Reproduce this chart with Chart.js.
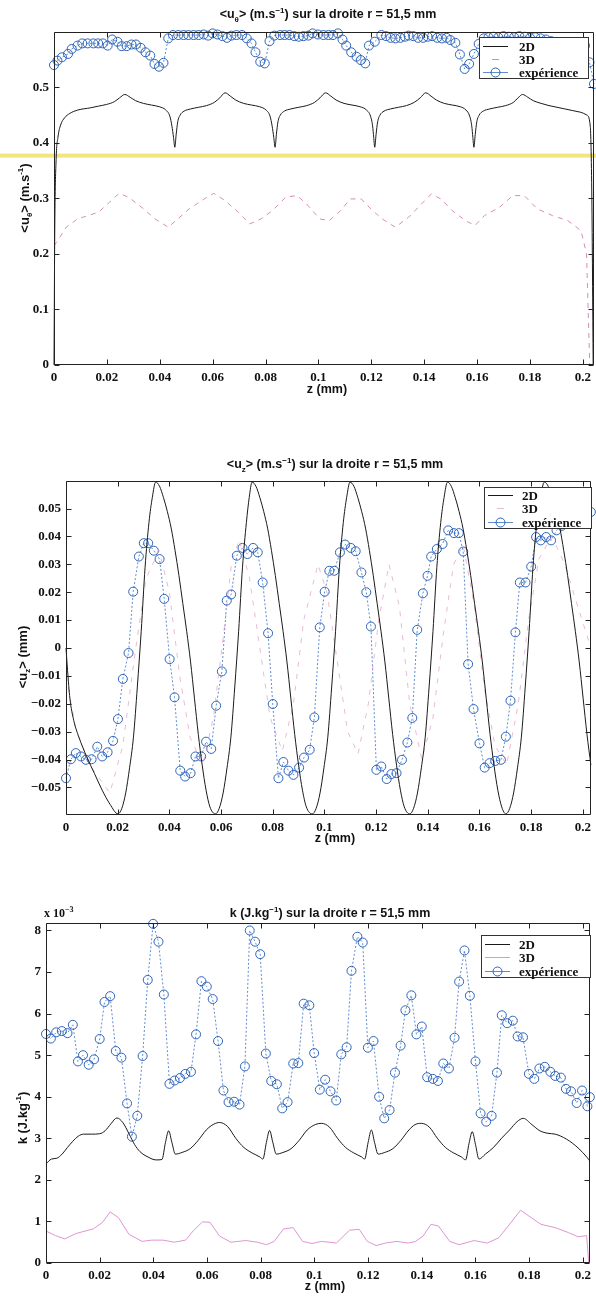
<!DOCTYPE html>
<html><head><meta charset="utf-8">
<script src="https://cdn.jsdelivr.net/npm/chart.js@4.4.1/dist/chart.umd.min.js"></script>
<style>
html,body{margin:0;padding:0;background:#fff;}
body{width:596px;height:1296px;position:relative;overflow:hidden;}
canvas{position:absolute;left:0;}
.t{position:absolute;font:bold 12.5px "Liberation Sans",Arial,sans-serif;color:#111;white-space:nowrap;transform:translate(-50%,-50%);}
.yl{transform:translate(-50%,-50%) rotate(-90deg);font-size:13px;}
.t sub,.t sup{font-size:8px;line-height:0;}
.s{position:absolute;font:bold 12px "Liberation Serif",serif;color:#111;white-space:nowrap;}
.s sup{font-size:8px;line-height:0;}
</style></head><body>
<canvas id="c1" width="596" height="430" style="top:0"></canvas>
<canvas id="c2" width="596" height="440" style="top:430px"></canvas>
<canvas id="c3" width="596" height="426" style="top:870px"></canvas>

<div class="t" style="left:328px;top:14px">&lt;u<sub>θ</sub>&gt; (m.s<sup>−1</sup>) sur la droite r = 51,5 mm</div>
<div class="t" style="left:327px;top:389px">z (mm)</div>
<div class="t yl" style="left:24px;top:198px">&lt;u<sub>θ</sub>&gt; (m.s<sup>-1</sup>)</div>

<div class="t" style="left:335px;top:464px">&lt;u<sub>z</sub>&gt; (m.s<sup>−1</sup>) sur la droite r = 51,5 mm</div>
<div class="t" style="left:335px;top:838px">z (mm)</div>
<div class="t yl" style="left:22px;top:657px">&lt;u<sub>z</sub>&gt; (mm)</div>

<div class="t" style="left:330px;top:913px">k (J.kg<sup>−1</sup>) sur la droite r = 51,5 mm</div>
<div class="t" style="left:325px;top:1286px">z (mm)</div>
<div class="t yl" style="left:22px;top:1118px">k (J.kg<sup>-1</sup>)</div>
<div class="s" style="left:44px;top:906px">x 10<sup>−3</sup></div>

<script>
// ---------- data (z in mm) ----------
const seriesLabels = ['2D', '3D', 'expérience'];
const xTickStep = 0.02;

// chart 1 : <u_theta>
const uth2D = [[0,0],[0.0003,0.25],[0.0008,0.37],[0.0015,0.41],[0.0025,0.432],[0.004,0.445],[0.006,0.453],[0.009,0.459],[0.0138,0.463],[0.0168,0.466],[0.0198,0.469],[0.0228,0.474],[0.0248,0.481],[0.0268,0.487],[0.0288,0.482],[0.0308,0.476],[0.0338,0.471],[0.0368,0.468],[0.0398,0.465],[0.0423,0.459],[0.0438,0.448],[0.0446,0.43],[0.0452,0.41],[0.0457,0.392],[0.0462,0.415],[0.0468,0.438],[0.0477,0.45],[0.0492,0.457],[0.0517,0.461],[0.0547,0.464],[0.0577,0.467],[0.0607,0.473],[0.0627,0.481],[0.0647,0.49],[0.0667,0.484],[0.0687,0.477],[0.0717,0.471],[0.0747,0.468],[0.0777,0.465],[0.0802,0.459],[0.0817,0.448],[0.0825,0.43],[0.0831,0.41],[0.0836,0.392],[0.0841,0.415],[0.0847,0.438],[0.0856,0.45],[0.0871,0.457],[0.0896,0.461],[0.0926,0.464],[0.0956,0.467],[0.0986,0.473],[0.1006,0.481],[0.1027,0.49],[0.1047,0.484],[0.1067,0.477],[0.1097,0.471],[0.1127,0.468],[0.1157,0.465],[0.1182,0.459],[0.1197,0.448],[0.1205,0.43],[0.1209,0.41],[0.1213,0.392],[0.1218,0.415],[0.1224,0.438],[0.1233,0.45],[0.1248,0.457],[0.1273,0.461],[0.1303,0.464],[0.1333,0.467],[0.1363,0.473],[0.1385,0.481],[0.1406,0.49],[0.1426,0.484],[0.1446,0.477],[0.1476,0.471],[0.1506,0.468],[0.1536,0.465],[0.1558,0.459],[0.1572,0.448],[0.158,0.43],[0.1584,0.41],[0.1588,0.392],[0.1593,0.415],[0.1599,0.438],[0.1608,0.45],[0.1623,0.457],[0.1648,0.461],[0.1678,0.464],[0.1708,0.467],[0.1738,0.473],[0.1755,0.481],[0.1772,0.487],[0.1792,0.482],[0.1812,0.476],[0.1842,0.471],[0.1872,0.467],[0.1902,0.464],[0.1932,0.461],[0.1962,0.458],[0.1992,0.455],[0.2015,0.45],[0.2028,0.43],[0.2034,0.3],[0.2039,0]];
const uth3D = [[0,0.215],[0.001,0.221],[0.0046,0.248],[0.0089,0.263],[0.0168,0.275],[0.021,0.293],[0.0246,0.309],[0.0282,0.302],[0.0339,0.281],[0.0382,0.263],[0.0432,0.248],[0.0468,0.263],[0.0511,0.281],[0.0568,0.299],[0.0604,0.309],[0.0647,0.296],[0.0697,0.275],[0.074,0.254],[0.0783,0.263],[0.0826,0.278],[0.0876,0.302],[0.0919,0.305],[0.0955,0.29],[0.1005,0.263],[0.1041,0.26],[0.1084,0.278],[0.112,0.299],[0.1162,0.299],[0.1198,0.281],[0.1241,0.263],[0.1291,0.248],[0.1341,0.266],[0.1384,0.287],[0.1427,0.308],[0.1463,0.299],[0.1506,0.278],[0.1556,0.26],[0.1592,0.251],[0.1628,0.269],[0.1685,0.284],[0.1735,0.305],[0.1778,0.305],[0.1828,0.281],[0.1885,0.269],[0.1943,0.26],[0.1993,0.242],[0.2014,0.2],[0.2026,0]];
const uthExp = [[0,0.540],[0.0013,0.548],[0.003,0.554],[0.0053,0.560],[0.0067,0.569],[0.0089,0.575],[0.0107,0.579],[0.0127,0.579],[0.0149,0.579],[0.0167,0.579],[0.0185,0.579],[0.0203,0.575],[0.022,0.586],[0.024,0.582],[0.0256,0.574],[0.0275,0.574],[0.0293,0.577],[0.031,0.577],[0.0328,0.571],[0.0346,0.563],[0.0364,0.557],[0.038,0.542],[0.0397,0.537],[0.0414,0.544],[0.0432,0.588],[0.045,0.594],[0.047,0.594],[0.049,0.594],[0.0508,0.594],[0.0528,0.594],[0.0547,0.594],[0.0566,0.595],[0.0583,0.593],[0.06,0.597],[0.0618,0.595],[0.0637,0.592],[0.0654,0.589],[0.0671,0.593],[0.069,0.594],[0.0711,0.594],[0.0729,0.588],[0.0747,0.579],[0.0762,0.563],[0.078,0.546],[0.0797,0.543],[0.0815,0.583],[0.0833,0.593],[0.0855,0.594],[0.0872,0.594],[0.089,0.594],[0.0909,0.592],[0.0926,0.591],[0.0943,0.592],[0.0962,0.593],[0.0978,0.597],[0.0998,0.595],[0.1019,0.594],[0.1038,0.594],[0.1055,0.594],[0.1074,0.597],[0.1091,0.586],[0.1105,0.575],[0.1124,0.563],[0.1144,0.555],[0.116,0.549],[0.1177,0.543],[0.1191,0.575],[0.1213,0.582],[0.1238,0.594],[0.1256,0.592],[0.1273,0.589],[0.1291,0.588],[0.131,0.589],[0.1327,0.591],[0.1341,0.593],[0.1359,0.592],[0.1377,0.589],[0.1396,0.589],[0.1413,0.591],[0.143,0.592],[0.1449,0.589],[0.1467,0.588],[0.1485,0.589],[0.1499,0.585],[0.1518,0.580],[0.1535,0.559],[0.1553,0.533],[0.157,0.542],[0.1588,0.560],[0.1606,0.578],[0.1625,0.588],[0.1643,0.590],[0.1662,0.591],[0.168,0.590],[0.17,0.592],[0.172,0.591],[0.174,0.590],[0.176,0.592],[0.178,0.591],[0.18,0.589],[0.182,0.590],[0.184,0.588],[0.186,0.586],[0.188,0.583],[0.19,0.575],[0.192,0.562],[0.1938,0.548],[0.1955,0.540],[0.1973,0.548],[0.199,0.565],[0.2008,0.575],[0.2025,0.545],[0.2042,0.506]];
const uthYTicks = {min: 0, max: 0.5995, step: 0.1};
const uthBand = 0.377;   // pale yellow horizontal stripe in the scan

// chart 2 : <u_z>
const uz2D = [[0,0],[0.0006,-0.008],[0.0015,-0.018],[0.003,-0.026],[0.005,-0.032],[0.008,-0.039],[0.011,-0.045],[0.014,-0.051],[0.017,-0.056],[0.0201,-0.0595],[0.0216,-0.0575],[0.0231,-0.052],[0.0246,-0.043],[0.0261,-0.032],[0.0276,-0.014],[0.0291,0.006],[0.0306,0.029],[0.0321,0.045],[0.0334,0.054],[0.0347,0.0595],[0.0362,0.058],[0.0377,0.054],[0.0392,0.049],[0.0407,0.043],[0.0422,0.035],[0.0437,0.026],[0.0452,0.016],[0.0467,0.006],[0.0482,-0.005],[0.0497,-0.018],[0.0512,-0.031],[0.0527,-0.042],[0.0542,-0.051],[0.0557,-0.057],[0.0578,-0.0595],[0.0593,-0.0575],[0.0608,-0.052],[0.0623,-0.043],[0.0638,-0.032],[0.0653,-0.014],[0.0668,0.006],[0.0683,0.029],[0.0698,0.045],[0.0709,0.054],[0.072,0.0595],[0.0735,0.058],[0.075,0.054],[0.0765,0.049],[0.078,0.043],[0.0795,0.035],[0.081,0.026],[0.0825,0.016],[0.084,0.006],[0.0855,-0.005],[0.087,-0.018],[0.0885,-0.031],[0.09,-0.042],[0.0915,-0.051],[0.093,-0.057],[0.0953,-0.0595],[0.0968,-0.0575],[0.0983,-0.052],[0.0998,-0.043],[0.1013,-0.032],[0.1028,-0.014],[0.1043,0.006],[0.1058,0.029],[0.1073,0.045],[0.1086,0.054],[0.1099,0.0595],[0.1114,0.058],[0.1129,0.054],[0.1144,0.049],[0.1159,0.043],[0.1174,0.035],[0.1189,0.026],[0.1204,0.016],[0.1219,0.006],[0.1234,-0.005],[0.1249,-0.018],[0.1264,-0.031],[0.1279,-0.042],[0.1294,-0.051],[0.1309,-0.057],[0.133,-0.0595],[0.1345,-0.0575],[0.136,-0.052],[0.1375,-0.043],[0.139,-0.032],[0.1405,-0.014],[0.142,0.006],[0.1435,0.029],[0.145,0.045],[0.1463,0.054],[0.1476,0.0595],[0.1491,0.058],[0.1506,0.054],[0.1521,0.049],[0.1536,0.043],[0.1551,0.035],[0.1566,0.026],[0.1581,0.016],[0.1596,0.006],[0.1611,-0.005],[0.1626,-0.018],[0.1641,-0.031],[0.1656,-0.042],[0.1671,-0.051],[0.1686,-0.057],[0.1702,-0.0595],[0.1717,-0.0575],[0.1732,-0.052],[0.1747,-0.043],[0.1762,-0.032],[0.1777,-0.014],[0.1792,0.006],[0.1807,0.029],[0.1822,0.045],[0.1836,0.054],[0.1851,0.0595],[0.1866,0.058],[0.1881,0.054],[0.1896,0.049],[0.1911,0.043],[0.1926,0.035],[0.1941,0.026],[0.1956,0.016],[0.1971,0.006],[0.1986,-0.005],[0.2001,-0.018],[0.2016,-0.031],[0.2031,-0.042]];
const uz3D = [[0,-0.01],[0.004,-0.03],[0.01,-0.043],[0.017,-0.052],[0.022,-0.035],[0.027,0.0],[0.031,0.025],[0.036,0.035],[0.04,0.02],[0.044,-0.01],[0.048,-0.032],[0.053,-0.042],[0.057,-0.025],[0.061,0.005],[0.064,0.03],[0.067,0.039],[0.071,0.025],[0.075,0.0],[0.079,-0.025],[0.0837,-0.037],[0.088,-0.02],[0.092,0.01],[0.0975,0.03],[0.101,0.02],[0.105,-0.005],[0.109,-0.03],[0.113,-0.038],[0.117,-0.02],[0.121,0.01],[0.125,0.03],[0.129,0.015],[0.133,-0.02],[0.1377,-0.04],[0.142,-0.025],[0.146,0.005],[0.15,0.03],[0.1537,0.037],[0.158,0.015],[0.162,-0.015],[0.166,-0.035],[0.1705,-0.042],[0.175,-0.02],[0.179,0.01],[0.183,0.032],[0.188,0.04],[0.193,0.03],[0.198,0.015],[0.2031,0.0]];
const uzExp = [[0,-0.0467],[0.0019,-0.0399],[0.0038,-0.0377],[0.0058,-0.0389],[0.0077,-0.0401],[0.0099,-0.0399],[0.0121,-0.0354],[0.014,-0.0389],[0.0161,-0.0374],[0.0182,-0.0333],[0.0201,-0.0255],[0.022,-0.0111],[0.0242,-0.0018],[0.026,0.0202],[0.0282,0.0328],[0.0301,0.0376],[0.0318,0.0376],[0.034,0.0349],[0.0362,0.0319],[0.038,0.0176],[0.0401,-0.004],[0.042,-0.0177],[0.0442,-0.044],[0.0461,-0.0461],[0.0482,-0.0449],[0.0501,-0.0389],[0.0523,-0.0389],[0.0542,-0.0336],[0.0562,-0.0362],[0.0581,-0.0207],[0.0603,-0.0084],[0.0622,0.017],[0.0639,0.0192],[0.0661,0.0331],[0.0683,0.0359],[0.0702,0.0337],[0.0724,0.0359],[0.0742,0.0343],[0.0761,0.0235],[0.0782,0.0053],[0.08,-0.0201],[0.0822,-0.0467],[0.0841,-0.0409],[0.0861,-0.044],[0.088,-0.0455],[0.0902,-0.0429],[0.0921,-0.0393],[0.0943,-0.0365],[0.0961,-0.0249],[0.0982,0.0074],[0.1001,0.0202],[0.1019,0.0277],[0.1038,0.0277],[0.106,0.0343],[0.108,0.0371],[0.1102,0.0359],[0.1121,0.0347],[0.1143,0.0271],[0.1162,0.02],[0.118,0.0077],[0.1201,-0.0437],[0.122,-0.0425],[0.1241,-0.047],[0.1259,-0.0452],[0.1279,-0.0449],[0.13,-0.0401],[0.1321,-0.0339],[0.134,-0.0251],[0.1359,0.0065],[0.1381,0.0196],[0.1399,0.0259],[0.1413,0.0328],[0.1435,0.0355],[0.1457,0.0373],[0.1479,0.0422],[0.1501,0.0412],[0.152,0.0412],[0.1537,0.0346],[0.1556,-0.0058],[0.1577,-0.0219],[0.16,-0.0342],[0.162,-0.0429],[0.1639,-0.0413],[0.1661,-0.0405],[0.1683,-0.0401],[0.1702,-0.0318],[0.172,-0.0189],[0.1739,0.0056],[0.1756,0.0235],[0.1778,0.0235],[0.18,0.0292],[0.1819,0.0398],[0.1837,0.0386],[0.1858,0.0398],[0.1877,0.0386],[0.1898,0.0422],[0.1918,0.0438],[0.1937,0.0452],[0.1957,0.046],[0.1976,0.0466],[0.1996,0.047],[0.2015,0.048],[0.2031,0.0488]];
const uzYTicks = {min: -0.0599, max: 0.0599, step: 0.01};

// chart 3 : k (x 10^-3 J/kg)
const k2D = [[0,2.38],[0.002,2.5],[0.004,2.52],[0.006,2.62],[0.008,2.78],[0.01,2.93],[0.012,3.05],[0.014,3.1],[0.017,3.1],[0.02,3.11],[0.022,3.18],[0.0242,3.35],[0.0264,3.49],[0.0286,3.38],[0.031,3.1],[0.033,2.85],[0.035,2.68],[0.038,2.55],[0.041,2.48],[0.0432,2.49],[0.0445,2.9],[0.0457,3.18],[0.0469,2.9],[0.0482,2.62],[0.0507,2.66],[0.0537,2.75],[0.0567,2.95],[0.0597,3.2],[0.0625,3.34],[0.0647,3.38],[0.0677,3.28],[0.0707,3.0],[0.0737,2.78],[0.0767,2.65],[0.0797,2.55],[0.0808,2.5],[0.0821,2.9],[0.0833,3.19],[0.0845,2.9],[0.0858,2.62],[0.0883,2.66],[0.0913,2.75],[0.0943,2.95],[0.0973,3.2],[0.1003,3.33],[0.1026,3.36],[0.1056,3.27],[0.1086,3.0],[0.1116,2.78],[0.1146,2.65],[0.1176,2.55],[0.1187,2.5],[0.12,2.9],[0.1212,3.2],[0.1224,2.9],[0.1237,2.62],[0.1262,2.66],[0.1292,2.75],[0.1322,2.95],[0.1352,3.2],[0.1375,3.33],[0.1398,3.36],[0.1428,3.27],[0.1458,3.0],[0.1488,2.78],[0.1518,2.65],[0.1548,2.55],[0.1563,2.48],[0.1576,2.88],[0.1588,3.16],[0.16,2.85],[0.1613,2.5],[0.1637,2.62],[0.1667,2.78],[0.1697,3.0],[0.1727,3.2],[0.1755,3.4],[0.1778,3.48],[0.181,3.33],[0.184,3.18],[0.187,3.12],[0.1897,3.1],[0.1939,2.98],[0.1982,2.77],[0.2017,2.53],[0.2026,2.45]];
const k3D = [[0,0.77],[0.0035,0.66],[0.007,0.58],[0.0112,0.71],[0.0176,0.82],[0.0211,0.98],[0.0239,1.23],[0.027,1.09],[0.0309,0.69],[0.0358,0.52],[0.0394,0.55],[0.0436,0.55],[0.0478,0.5],[0.052,0.55],[0.0548,0.77],[0.0583,0.99],[0.0611,0.98],[0.0646,0.65],[0.0689,0.5],[0.0745,0.54],[0.0787,0.5],[0.0822,0.44],[0.085,0.52],[0.0885,0.82],[0.0921,0.85],[0.0956,0.52],[0.0991,0.47],[0.1026,0.52],[0.1082,0.48],[0.1131,0.79],[0.1167,0.81],[0.1197,0.52],[0.123,0.42],[0.1265,0.48],[0.1307,0.52],[0.1349,0.48],[0.1377,0.52],[0.1405,0.65],[0.1434,0.93],[0.1462,0.89],[0.1504,0.52],[0.1539,0.44],[0.1595,0.54],[0.1644,0.48],[0.1687,0.61],[0.1722,0.89],[0.1768,1.27],[0.1799,1.13],[0.1844,0.93],[0.1897,0.85],[0.1947,0.73],[0.1982,0.63],[0.2014,0.66],[0.2022,0]];
const kExp = [[0,5.51],[0.0018,5.40],[0.0038,5.55],[0.0059,5.58],[0.008,5.53],[0.01,5.73],[0.0119,4.85],[0.0138,5.0],[0.0159,4.77],[0.0179,4.90],[0.02,5.39],[0.0218,6.28],[0.0239,6.42],[0.026,5.1],[0.0281,4.94],[0.0302,3.84],[0.032,3.04],[0.034,3.54],[0.036,4.98],[0.0379,6.81],[0.0399,8.16],[0.0419,7.73],[0.0439,6.46],[0.046,4.31],[0.0479,4.39],[0.0499,4.45],[0.0519,4.55],[0.054,4.6],[0.0559,5.5],[0.0579,6.78],[0.0599,6.65],[0.0621,6.35],[0.0641,5.34],[0.0661,4.15],[0.068,3.87],[0.0701,3.88],[0.0721,3.81],[0.0741,4.73],[0.0759,8.0],[0.0779,7.73],[0.0798,7.43],[0.0819,5.04],[0.0839,4.38],[0.086,4.30],[0.088,3.72],[0.09,3.87],[0.0921,4.8],[0.094,4.81],[0.096,6.24],[0.0981,6.2],[0.0999,5.05],[0.102,4.17],[0.104,4.41],[0.106,4.13],[0.1081,3.91],[0.11,5.02],[0.112,5.19],[0.1138,7.03],[0.116,7.85],[0.118,7.71],[0.1199,5.18],[0.122,5.34],[0.1241,4.0],[0.126,3.48],[0.128,3.68],[0.13,4.58],[0.1321,5.23],[0.1339,6.08],[0.1361,6.44],[0.138,5.5],[0.14,5.69],[0.142,4.47],[0.1441,4.43],[0.146,4.38],[0.148,4.8],[0.1501,4.68],[0.1522,5.42],[0.1539,6.77],[0.1559,7.52],[0.1579,6.43],[0.16,4.85],[0.1619,3.6],[0.164,3.4],[0.166,3.54],[0.168,4.58],[0.1698,5.96],[0.1718,5.77],[0.1739,5.83],[0.1757,5.45],[0.1777,5.43],[0.1799,4.55],[0.1819,4.43],[0.1838,4.68],[0.1858,4.72],[0.1879,4.6],[0.1897,4.5],[0.1918,4.46],[0.1937,4.19],[0.1956,4.13],[0.1977,3.85],[0.1997,4.15],[0.2017,3.77],[0.2026,3.99]];
const kYTicks = {min: 0, max: 8.18, step: 1};

// ---------- styling ----------
const BLUE = 'rgb(45,100,185)';
const BLUE_LINE = 'rgba(70,120,200,0.85)';
const BLACK = '#1a1a1a';
const PINK_DASH = 'rgb(215,140,185)';
const PINK_FAINT = 'rgba(220,140,185,0.6)';
const PINK_SOLID = 'rgb(222,150,210)';
const TICK_FONT = {family: '"Liberation Serif", "Times New Roman", serif', weight: 'bold', size: 13};

const toXY = arr => arr.map(p => ({x: p[0], y: p[1]}));
const fmt = v => { const r = Math.round(v * 1000) / 1000; return (r < 0 ? '\u2212' : '') + String(Math.abs(r)); };

const boxPlugin = {
  id: 'box',
  beforeDatasetsDraw(chart, args, o) {
    if (o.band == null) return;
    const ctx = chart.ctx, y = chart.scales.y.getPixelForValue(o.band);
    ctx.save();
    ctx.fillStyle = 'rgba(240,228,120,0.95)';
    ctx.fillRect(0, y - 2, chart.width, 4);
    ctx.restore();
  },
  afterDatasetsDraw(chart) {
    const {ctx, chartArea: a, scales: {x, y}} = chart;
    ctx.save();
    ctx.strokeStyle = '#222'; ctx.lineWidth = 1;
    const L = Math.round(a.left) + 0.5, R = Math.round(a.right) - 0.5, T = Math.round(a.top) + 0.5, B = Math.round(a.bottom) - 0.5;
    ctx.beginPath();
    ctx.moveTo(L, T); ctx.lineTo(R, T); ctx.lineTo(R, B); ctx.lineTo(L, B); ctx.closePath();
    const tl = 5;
    x.ticks.forEach(t => { const px = Math.round(x.getPixelForValue(t.value)) + 0.5; ctx.moveTo(px, B); ctx.lineTo(px, B - tl); ctx.moveTo(px, T); ctx.lineTo(px, T + tl); });
    y.ticks.forEach(t => { const py = Math.round(y.getPixelForValue(t.value)) + 0.5; ctx.moveTo(L, py); ctx.lineTo(L + tl, py); ctx.moveTo(R, py); ctx.lineTo(R - tl, py); });
    ctx.stroke();
    ctx.restore();
  },
  afterDraw(chart, args, o) {
    const g = o.legend; if (!g) return;
    const ctx = chart.ctx;
    ctx.save();
    ctx.fillStyle = '#fff'; ctx.fillRect(g.x, g.y, g.w, g.h);
    ctx.strokeStyle = '#333'; ctx.lineWidth = 1; ctx.strokeRect(g.x + 0.5, g.y + 0.5, g.w - 1, g.h - 1);
    ctx.font = 'bold 13px "Liberation Serif", serif'; ctx.textBaseline = 'middle'; ctx.fillStyle = '#111';
    chart.data.datasets.forEach((ds, i) => {
      const ry = Math.round(g.y + g.rows[i]) + 0.5;
      ctx.save();
      ctx.strokeStyle = ds.borderColor; ctx.lineWidth = 1;
      ctx.beginPath();
      if (g.short && g.short[i]) { ctx.moveTo(g.x + 13, ry); ctx.lineTo(g.x + 20, ry); }
      else { ctx.moveTo(g.x + 4, ry); ctx.lineTo(g.x + 29, ry); }
      ctx.stroke();
      if (ds.pointRadius > 0) { ctx.strokeStyle = BLUE; ctx.beginPath(); ctx.arc(g.x + 16.5, ry, ds.pointRadius, 0, Math.PI * 2); ctx.stroke(); }
      ctx.restore();
      ctx.fillText(ds.label, g.x + g.tx, ry + 1);
    });
    ctx.restore();
  }
};

function makeChart(id, cfg) {
  return new Chart(document.getElementById(id), {
    type: 'line',
    data: {datasets: [
      {label: seriesLabels[0], data: toXY(cfg.d2), borderColor: BLACK, borderWidth: 1, pointRadius: 0, cubicInterpolationMode: 'monotone', clip: false},
      {label: seriesLabels[1], data: toXY(cfg.d3), borderColor: cfg.pink, borderWidth: 1, borderDash: cfg.dash3, pointRadius: 0, tension: 0},
      {label: seriesLabels[2], data: toXY(cfg.de), borderColor: BLUE_LINE, borderWidth: 1, borderDash: [2, 2], tension: 0,
        pointRadius: 4.5, pointStyle: 'circle', pointBorderColor: BLUE, pointBackgroundColor: 'rgba(0,0,0,0)', pointBorderWidth: 1, clip: false}
    ]},
    options: {
      responsive: false, animation: false, devicePixelRatio: 1,
      layout: {padding: {top: cfg.top, right: 1, left: 0, bottom: 0}, autoPadding: false},
      plugins: {legend: {display: false}, tooltip: {enabled: false}, title: {display: false}, box: {legend: cfg.legend, band: cfg.band}},
      scales: {
        x: {type: 'linear', min: 0, max: cfg.xmax, afterFit: s => { s.height = cfg.xh; },
            grid: {display: false, drawTicks: false}, border: {display: false},
            ticks: {stepSize: xTickStep, includeBounds: false, autoSkip: false, maxRotation: 0, padding: 5, color: '#111', font: TICK_FONT, callback: fmt}},
        y: {type: 'linear', min: cfg.yt.min, max: cfg.yt.max, afterFit: s => { s.width = cfg.yw; },
            grid: {display: false, drawTicks: false}, border: {display: false},
            ticks: {stepSize: cfg.yt.step, includeBounds: false, autoSkip: false, padding: 5, color: '#111', font: TICK_FONT, callback: fmt}}
      }
    },
    plugins: [boxPlugin]
  });
}

makeChart('c1', {d2: uth2D, d3: uth3D, de: uthExp, pink: PINK_DASH, dash3: [5, 5], top: 32, xh: 65, yw: 54, xmax: 0.2042, yt: uthYTicks, band: uthBand,
  legend: {x: 479, y: 37, w: 110, h: 42, rows: [9, 22, 35], tx: 40, short: [false, true, false]}});
makeChart('c2', {d2: uz2D, d3: uz3D, de: uzExp, pink: PINK_FAINT, dash3: [5, 7], top: 51, xh: 55, yw: 66, xmax: 0.2031, yt: uzYTicks,
  legend: {x: 484, y: 57, w: 108, h: 42, rows: [8, 21, 35], tx: 38, short: [false, true, false]}});
makeChart('c3', {d2: k2D, d3: k3D, de: kExp, pink: PINK_SOLID, dash3: [], top: 53, xh: 33, yw: 46, xmax: 0.2026, yt: kYTicks,
  legend: {x: 481, y: 65, w: 110, h: 43, rows: [9, 22, 36], tx: 38, short: [false, false, false]}});
</script>
</body></html>
